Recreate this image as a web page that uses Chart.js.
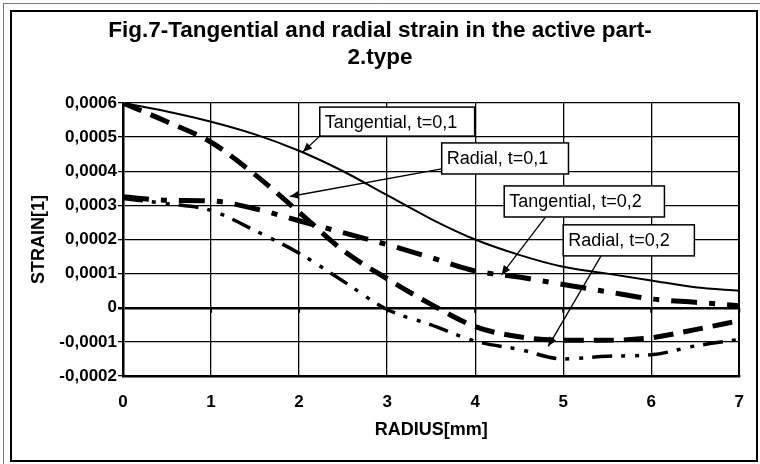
<!DOCTYPE html>
<html lang="en">
<head>
    <meta charset="UTF-8">
    <title>Fig.7 - Tangential and radial strain</title>
    <script src="https://cdn.jsdelivr.net/npm/chart.js@4.4.0/dist/chart.umd.min.js"></script>
    <style>
        html, body { margin: 0; padding: 0; background: #fff; }
        canvas { display: block; }
    </style>
</head>
<body>
    <canvas id="myChart" width="760" height="464"></canvas>

    <script>
        // radius [mm]
        const radius = [0, 0.5, 1, 1.5, 2, 2.5, 3, 3.5, 4, 4.5, 5, 5.5, 6, 6.5, 7]
        // strain values
        const tangential01 = [0.00060, 0.000575, 0.000545, 0.000508, 0.00046, 0.00040, 0.00033, 0.00026, 0.00020, 0.000155, 0.00012, 0.00010, 0.00008, 0.00006, 0.00005]
        const radial01 = [0.00060, 0.000545, 0.000485, 0.00039, 0.00028, 0.000168, 0.000085, 0.00001, -0.000055, -0.000085, -0.000095, -0.000095, -0.000088, -0.000064, -0.000038]
        const tangential02 = [0.000325, 0.000315, 0.000313, 0.00029, 0.000255, 0.00022, 0.000185, 0.000147, 0.000108, 0.00009, 0.000068, 0.000047, 0.000026, 0.000016, 0.000006]
        const radial02 = [0.00032, 0.000305, 0.000285, 0.000226, 0.00016, 0.000078, -0.000005, -0.00005, -0.000098, -0.000122, -0.00015, -0.000142, -0.000138, -0.000112, -0.000093]

        const seriesNames = ['Tangential, t=0,1', 'Radial, t=0,1', 'Tangential, t=0,2', 'Radial, t=0,2']

        const xTickValues = [0, 1, 2, 3, 4, 5, 6, 7]
        const yTickValues = [-0.0002, -0.0001, 0, 0.0001, 0.0002, 0.0003, 0.0004, 0.0005, 0.0006]
        const yTickLabels = ['-0,0002', '-0,0001', '0', '0,0001', '0,0002', '0,0003', '0,0004', '0,0005', '0,0006']

        // callout boxes: corners and arrow ends in data units
        const callouts = [
            {text: seriesNames[0], x1: 2.235, y1: 0.000588, x2: 3.994, y2: 0.000503, fromX: 2.235, fromY: 0.000503, toX: 2.045, toY: 0.000457},
            {text: seriesNames[1], x1: 3.62, y1: 0.000483, x2: 5.06, y2: 0.000392, fromX: 3.62, fromY: 0.000407, toX: 1.895, toY: 0.000326},
            {text: seriesNames[2], x1: 4.33, y1: 0.000357, x2: 6.15, y2: 0.000266, fromX: 4.8, fromY: 0.000266, toX: 4.30, toY: 0.000097},
            {text: seriesNames[3], x1: 5.0, y1: 0.000243, x2: 6.49, y2: 0.000152, fromX: 5.43, fromY: 0.000152, toX: 4.83, toY: -0.000113}
        ]

        const toPoints = arr => arr.map((v, i) => ({x: radius[i], y: v}))

        Chart.defaults.font.family = 'Arial, "Liberation Sans", sans-serif'
        Chart.defaults.color = '#000'

        const framePlugin = {
            id: 'frame',
            beforeDraw(chart) {
                const ctx = chart.ctx
                ctx.save()
                ctx.fillStyle = '#fff'
                ctx.fillRect(0, 0, chart.width, chart.height)
                ctx.restore()
            },
            afterDraw(chart) {
                const ctx = chart.ctx
                ctx.save()
                ctx.strokeStyle = '#000'
                ctx.lineWidth = 2
                ctx.strokeRect(11, 11, 746, 450)
                ctx.strokeStyle = '#777'
                ctx.lineWidth = 1
                ctx.beginPath()
                ctx.moveTo(3.5, 3)
                ctx.lineTo(3.5, 464)
                ctx.moveTo(3, 3.5)
                ctx.lineTo(760, 3.5)
                ctx.stroke()
                ctx.restore()
            }
        }

        // small tick marks hanging below the zero line, like the original
        const zeroTicksPlugin = {
            id: 'zeroTicks',
            afterDatasetsDraw(chart) {
                const ctx = chart.ctx
                const xs = chart.scales.x, ys = chart.scales.y
                const y0 = ys.getPixelForValue(0)
                ctx.save()
                ctx.strokeStyle = '#000'
                ctx.lineWidth = 2
                ctx.beginPath()
                xTickValues.forEach(v => {
                    const px = xs.getPixelForValue(v)
                    ctx.moveTo(px, y0)
                    ctx.lineTo(px, y0 + 5)
                })
                ctx.stroke()
                ctx.restore()
            }
        }

        const calloutPlugin = {
            id: 'callouts',
            afterDatasetsDraw(chart) {
                const ctx = chart.ctx
                const xs = chart.scales.x, ys = chart.scales.y
                ctx.save()
                callouts.forEach(c => {
                    const fx = xs.getPixelForValue(c.fromX), fy = ys.getPixelForValue(c.fromY)
                    const tx = xs.getPixelForValue(c.toX), ty = ys.getPixelForValue(c.toY)
                    // arrow
                    ctx.strokeStyle = '#000'
                    ctx.fillStyle = '#000'
                    ctx.lineWidth = 1.3
                    ctx.beginPath()
                    ctx.moveTo(fx, fy)
                    ctx.lineTo(tx, ty)
                    ctx.stroke()
                    const a = Math.atan2(ty - fy, tx - fx)
                    const len = 9, wid = 4
                    ctx.beginPath()
                    ctx.moveTo(tx, ty)
                    ctx.lineTo(tx - len * Math.cos(a) + wid * Math.sin(a), ty - len * Math.sin(a) - wid * Math.cos(a))
                    ctx.lineTo(tx - len * Math.cos(a) - wid * Math.sin(a), ty - len * Math.sin(a) + wid * Math.cos(a))
                    ctx.closePath()
                    ctx.fill()
                    // box
                    const bx1 = xs.getPixelForValue(c.x1), by1 = ys.getPixelForValue(c.y1)
                    const bx2 = xs.getPixelForValue(c.x2), by2 = ys.getPixelForValue(c.y2)
                    ctx.fillStyle = '#fff'
                    ctx.fillRect(bx1, by1, bx2 - bx1, by2 - by1)
                    ctx.lineWidth = 1.5
                    ctx.strokeRect(bx1, by1, bx2 - bx1, by2 - by1)
                    ctx.fillStyle = '#000'
                    ctx.font = '18px Arial, "Liberation Sans", sans-serif'
                    ctx.textAlign = 'left'
                    ctx.textBaseline = 'middle'
                    ctx.fillText(c.text, bx1 + 5, (by1 + by2) / 2 + 1)
                })
                ctx.restore()
            }
        }

        const ctx = document.getElementById('myChart').getContext('2d')
        const myChart = new Chart(ctx, {
            type: 'line',
            data: {
                datasets: [
                    {
                        label: seriesNames[0],
                        data: toPoints(tangential01),
                        borderColor: '#000',
                        borderWidth: 2,
                        pointRadius: 0,
                        cubicInterpolationMode: 'monotone'
                    },
                    {
                        label: seriesNames[1],
                        data: toPoints(radial01),
                        borderColor: '#000',
                        borderWidth: 5,
                        borderDash: [20, 10],
                        pointRadius: 0,
                        cubicInterpolationMode: 'monotone'
                    },
                    {
                        label: seriesNames[2],
                        data: toPoints(tangential02),
                        borderColor: '#000',
                        borderWidth: 5,
                        borderDash: [26, 12, 6, 12],
                        pointRadius: 0,
                        cubicInterpolationMode: 'monotone'
                    },
                    {
                        label: seriesNames[3],
                        data: toPoints(radial02),
                        borderColor: '#000',
                        borderWidth: 3.5,
                        borderDash: [20, 9, 4, 10, 4, 9],
                        pointRadius: 0,
                        cubicInterpolationMode: 'monotone'
                    }
                ]
            },
            options: {
                responsive: false,
                animation: false,
                layout: {padding: {left: 20, right: 20, top: 0, bottom: 0}},
                plugins: {
                    legend: {display: false},
                    tooltip: {enabled: false},
                    title: {
                        display: true,
                        text: ['Fig.7-Tangential and radial strain in the active part-', '2.type'],
                        color: '#000',
                        font: {size: 22.5, weight: 'bold', lineHeight: 1.2},
                        padding: {top: 17.5, bottom: 31.5}
                    }
                },
                scales: {
                    x: {
                        type: 'linear',
                        min: 0,
                        max: 7,
                        afterBuildTicks: s => { s.ticks = xTickValues.map(v => ({value: v})) },
                        afterFit: s => { s.height = 88 },
                        ticks: {
                            font: {size: 17, weight: 'bold'},
                            padding: 16,
                            maxRotation: 0
                        },
                        grid: {
                            color: '#000',
                            lineWidth: c => (c.tick && c.tick.value === 7 ? 2 : 1.3),
                            drawTicks: false
                        },
                        border: {display: true, color: '#000', width: 2.5},
                        title: {
                            display: true,
                            text: 'RADIUS[mm]',
                            font: {size: 18, weight: 'bold'},
                            padding: {top: 0, bottom: 23}
                        }
                    },
                    y: {
                        min: -0.0002,
                        max: 0.0006,
                        afterBuildTicks: s => { s.ticks = yTickValues.map(v => ({value: v})) },
                        afterFit: s => { s.width = 103 },
                        ticks: {
                            font: {size: 17, weight: 'bold'},
                            padding: 1,
                            callback: (v, i) => yTickLabels[i]
                        },
                        grid: {
                            color: '#000',
                            lineWidth: c => (c.tick && c.tick.value === 0 ? 2.5 : 1.3),
                            drawTicks: true,
                            tickLength: 5
                        },
                        border: {display: true, color: '#000', width: 2.5},
                        title: {
                            display: true,
                            text: 'STRAIN[1]',
                            font: {size: 18, weight: 'bold'},
                            padding: {top: 8, bottom: 0}
                        }
                    }
                }
            },
            plugins: [framePlugin, zeroTicksPlugin, calloutPlugin]
        })
    </script>
</body>
</html>
